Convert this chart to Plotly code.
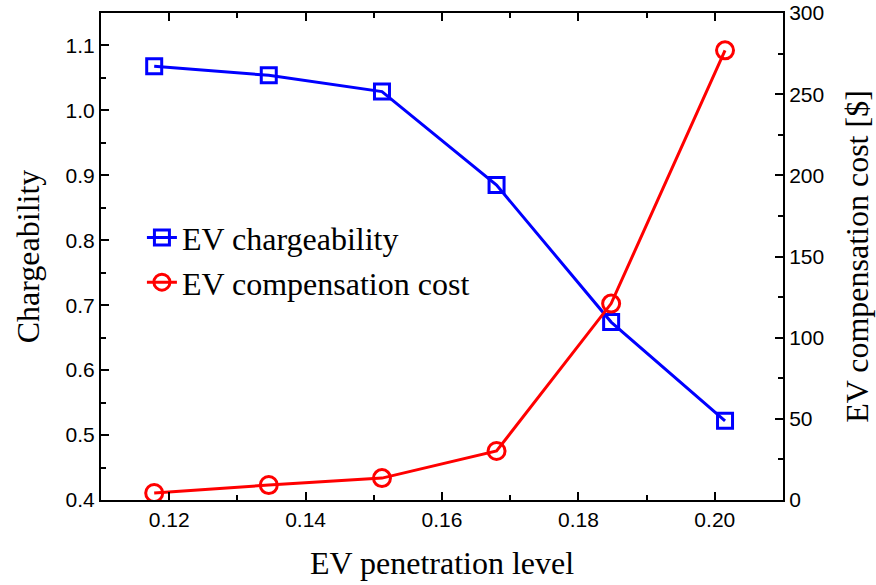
import plotly.graph_objects as go

# EV penetration level (x) and the two measured series
penetration = [0.1178, 0.1346, 0.1512, 0.1680, 0.1848, 0.2015]
chargeability = [1.068, 1.054, 1.029, 0.885, 0.674, 0.522]
compensation_cost = [4.3, 9.2, 13.5, 30.2, 121.0, 277.0]

BLUE = "#0000FF"
RED = "#FF0000"
SERIF = "Liberation Serif, Times New Roman, serif"
SANS = "Liberation Sans, Arial, sans-serif"
TICKFONT = dict(family=SANS, size=21, color="black")
TITLEFONT = dict(family=SERIF, size=32, color="black")

fig = go.Figure()
fig.add_trace(go.Scatter(
    x=penetration, y=chargeability, name="EV chargeability",
    mode="lines+markers",
    line=dict(color=BLUE, width=3),
    marker=dict(symbol="square-open", size=15, color=BLUE, line=dict(width=3, color=BLUE)),
    yaxis="y",
))
fig.add_trace(go.Scatter(
    x=penetration, y=compensation_cost, name="EV compensation cost",
    mode="lines+markers",
    line=dict(color=RED, width=3),
    marker=dict(symbol="circle-open", size=17, color=RED, line=dict(width=3, color=RED)),
    yaxis="y2",
))

fig.update_layout(
    width=876, height=585,
    margin=dict(l=101, r=93, t=13, b=85),
    paper_bgcolor="white", plot_bgcolor="white",
    showlegend=True,
    legend=dict(
        x=0.06, y=0.595, xanchor="left", yanchor="top",
        bgcolor="rgba(0,0,0,0)", borderwidth=0,
        font=dict(family=SERIF, size=32, color="black"),
        itemsizing="trace", tracegroupgap=0,
    ),
    xaxis=dict(
        range=[0.11, 0.21], tickvals=[0.12, 0.14, 0.16, 0.18, 0.20], tickformat=".2f",
        automargin=False,
        showline=True, linecolor="black", linewidth=2, mirror="ticks",
        ticks="inside", ticklen=8, tickwidth=2, tickcolor="black",
        minor=dict(tickvals=[0.13, 0.15, 0.17, 0.19], ticks="inside", ticklen=5, tickwidth=2, tickcolor="black"),
        showgrid=False, zeroline=False,
        tickfont=TICKFONT,
        title=dict(text="EV penetration level", font=TITLEFONT, standoff=21),
    ),
    yaxis=dict(
        range=[0.4, 1.15], tickvals=[0.4, 0.5, 0.6, 0.7, 0.8, 0.9, 1.0, 1.1], tickformat=".1f",
        automargin=False,
        showline=True, linecolor="black", linewidth=2,
        ticks="inside", ticklen=8, tickwidth=2, tickcolor="black",
        minor=dict(tickvals=[0.45, 0.55, 0.65, 0.75, 0.85, 0.95, 1.05], ticks="inside", ticklen=5, tickwidth=2, tickcolor="black"),
        showgrid=False, zeroline=False,
        tickfont=TICKFONT,
        title=dict(text="Chargeability", font=TITLEFONT, standoff=16),
    ),
    yaxis2=dict(
        range=[0, 300], tickvals=[0, 50, 100, 150, 200, 250, 300],
        automargin=False,
        overlaying="y", side="right",
        showline=True, linecolor="black", linewidth=2,
        ticks="inside", ticklen=8, tickwidth=2, tickcolor="black",
        minor=dict(tickvals=[25, 75, 125, 175, 225, 275], ticks="inside", ticklen=5, tickwidth=2, tickcolor="black"),
        showgrid=False, zeroline=False,
        tickfont=TICKFONT,
        title=dict(text="EV compensation cost [$]", font=TITLEFONT, standoff=22),
    ),
)

fig.write_html("out.html")
